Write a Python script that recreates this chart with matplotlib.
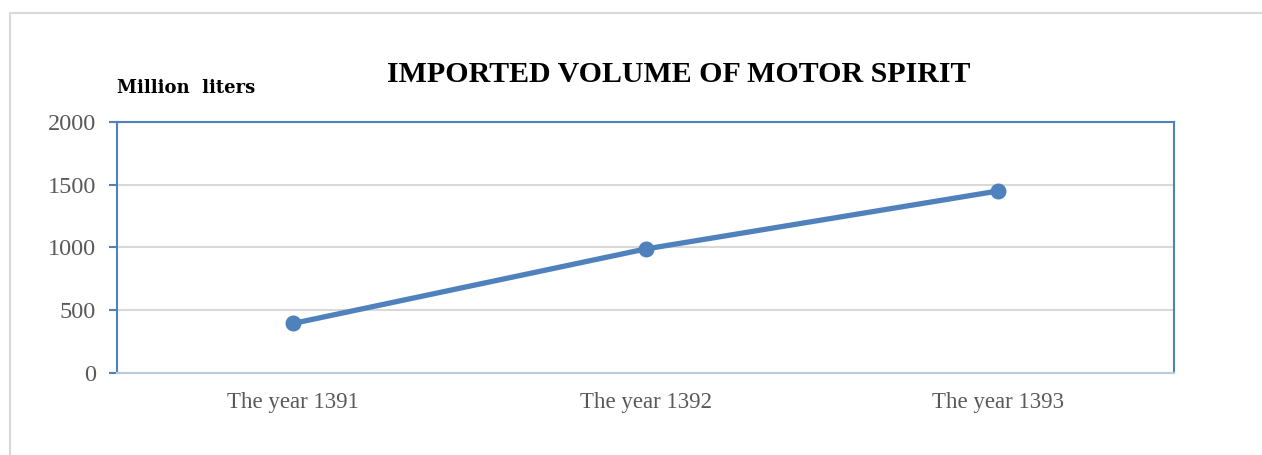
#!/usr/bin/env python3
# Imported volume of motor spirit, line chart with category years.

import matplotlib
matplotlib.use("Agg")
import matplotlib.pyplot as plt
from matplotlib.patches import Rectangle

matplotlib.rc("font", family="Liberation Serif")

# Data
years = ["The year 1391", "The year 1392", "The year 1393"]
volume = [395, 988, 1450]
yticks = [0, 500, 1000, 1500, 2000]

# Colours
lineColour = "#4F81BD"
gridColour = "#D9D9D9"
tickColour = "#595959"

figure = plt.figure(figsize=(12.62, 4.55), dpi=100)
axes = figure.add_axes([0.0927, 0.1802, 0.8376, 0.5517])

# outer chart frame (partly cut off at right and bottom)
figure.patches.append(Rectangle((10 / 1262, -0.1), 1.2, (455 - 13) / 455 + 0.1,
                                transform=figure.transFigure, fill=False,
                                edgecolor="#D9D9D9", linewidth=1.5))

xs = list(range(len(years)))
axes.plot(xs, volume, color=lineColour, linewidth=3.8, marker="o",
          markersize=10.5, solid_capstyle="round", zorder=3)

axes.set_xlim(-0.5, len(years) - 0.5)
axes.set_ylim(0, 2000)
axes.set_xticks(xs)
axes.set_xticklabels(years)
axes.set_yticks(yticks)
axes.tick_params(axis="x", length=0, pad=14, labelsize=16.5, labelcolor=tickColour)
axes.tick_params(axis="y", length=6, width=1.5, color=lineColour, pad=9,
                 labelsize=17.5, labelcolor=tickColour)
axes.yaxis.grid(True, color=gridColour, linewidth=1.5)
axes.set_axisbelow(True)

for side in ["left", "top", "right"]:
    axes.spines[side].set_color(lineColour)
    axes.spines[side].set_linewidth(1.5)
axes.spines["bottom"].set_color("#B9C9DF")
axes.spines["bottom"].set_linewidth(1.5)

figure.text(679 / 1262, 1 - 74 / 455, "IMPORTED VOLUME OF MOTOR SPIRIT",
            ha="center", va="center", fontsize=21.5, fontweight="bold")
figure.text(117 / 1262, 1 - 88 / 455, "Million  liters", ha="left",
            va="center", fontsize=13, fontweight="bold", family="DejaVu Serif")

figure.savefig("out.png", dpi=100)
